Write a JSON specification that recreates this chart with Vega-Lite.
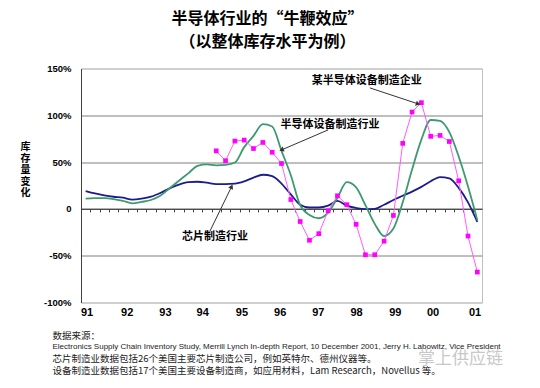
{
  "$schema": "https://vega.github.io/schema/vega-lite/v6.json",
  "width": 401,
  "height": 234,
  "autosize": {"type": "none"},
  "padding": {"left": 81, "top": 68.5, "right": 58, "bottom": 85.5},
  "background": "white",
  "config": {"view": {"stroke": "#c0c0c0", "strokeWidth": 1}, "font": "Liberation Sans"},
  "title": {
    "text": ["半导体行业的“牛鞭效应”", "（以整体库存水平为例）"],
    "font": "Noto Sans CJK SC",
    "fontSize": 16,
    "fontWeight": "bold",
    "lineHeight": 23,
    "anchor": "middle",
    "dx": -14,
    "offset": 14,
    "color": "#000000"
  },
  "datasets": {
    "series": [
      {"t": 0, "chip": 19, "equip": 11, "firm": null},
      {"t": 1, "chip": 16.5, "equip": 11.5, "firm": null},
      {"t": 2, "chip": 14.5, "equip": 11.5, "firm": null},
      {"t": 3, "chip": 13, "equip": 10.5, "firm": null},
      {"t": 4, "chip": 12, "equip": 8.5, "firm": null},
      {"t": 5, "chip": 10, "equip": 6, "firm": null},
      {"t": 6, "chip": 11, "equip": 7.5, "firm": null},
      {"t": 7, "chip": 13, "equip": 9.5, "firm": null},
      {"t": 8, "chip": 17, "equip": 14, "firm": null},
      {"t": 9, "chip": 22, "equip": 22, "firm": null},
      {"t": 10, "chip": 26, "equip": 30, "firm": null},
      {"t": 11, "chip": 28.5, "equip": 38, "firm": null},
      {"t": 12, "chip": 29, "equip": 46, "firm": null},
      {"t": 13, "chip": 28, "equip": 47.5, "firm": null},
      {"t": 14, "chip": 26.5, "equip": 46.5, "firm": 62},
      {"t": 15, "chip": 26.5, "equip": 47, "firm": 51.5},
      {"t": 16, "chip": 27, "equip": 49.5, "firm": 72.5},
      {"t": 17, "chip": 29.5, "equip": 66, "firm": 73.5},
      {"t": 18, "chip": 33.5, "equip": 78, "firm": 64.5},
      {"t": 19, "chip": 36.5, "equip": 90.5, "firm": 71},
      {"t": 20, "chip": 35, "equip": 88, "firm": 60.5},
      {"t": 21, "chip": 27, "equip": 62, "firm": 48.5},
      {"t": 22, "chip": 15.5, "equip": 36, "firm": 10},
      {"t": 23, "chip": 4.5, "equip": 4, "firm": -13.5},
      {"t": 24, "chip": 1.5, "equip": -6.5, "firm": -33.5},
      {"t": 25, "chip": 1.5, "equip": -10, "firm": -26.5},
      {"t": 26, "chip": 3.5, "equip": -4, "firm": -2},
      {"t": 27, "chip": 8.5, "equip": 12, "firm": 14},
      {"t": 28, "chip": 3.5, "equip": 28.5, "firm": 4.5},
      {"t": 29, "chip": 1, "equip": 23, "firm": -16.5},
      {"t": 30, "chip": -0.3, "equip": 4, "firm": -49},
      {"t": 31, "chip": 0, "equip": -16, "firm": -49},
      {"t": 32, "chip": 4.5, "equip": -29, "firm": -34.5},
      {"t": 33, "chip": 9.5, "equip": -21, "firm": -7},
      {"t": 34, "chip": 14, "equip": 7, "firm": 70},
      {"t": 35, "chip": 18.5, "equip": 42, "firm": 103.5},
      {"t": 36, "chip": 23.5, "equip": 74, "firm": 113.5},
      {"t": 37, "chip": 29.5, "equip": 95, "firm": 77.5},
      {"t": 38, "chip": 34, "equip": 94, "firm": 78.5},
      {"t": 39, "chip": 32.5, "equip": 82, "firm": 72},
      {"t": 40, "chip": 22.5, "equip": 56, "firm": 30},
      {"t": 41, "chip": 7, "equip": 24, "firm": -29},
      {"t": 42, "chip": -14, "equip": -12, "firm": -67.5}
    ],
    "labels": [
      {"label": "某半导体设备制造企业", "t": 30.15, "v": 137},
      {"label": "半导体设备制造行业", "t": 26.2, "v": 89.7},
      {"label": "芯片制造行业", "t": 13.86, "v": -29.6}
    ],
    "arrows": [
      {"id": "a", "t": 30.47, "v": 129.3, "t2": 35.65, "v2": 112.2},
      {"id": "b", "t": 26.0, "v": 84.4, "t2": 21.0, "v2": 63.0},
      {"id": "c", "t": 13.3, "v": -24.3, "t2": 15.65, "v2": 23.8}
    ]
  },
  "resolve": {"axis": {"x": "independent", "y": "independent"}},
  "layer": [
    {
      "data": {"name": "series"},
      "mark": {"type": "line", "color": "#1c1c8a", "strokeWidth": 1.8, "interpolate": "monotone"},
      "encoding": {
        "x": {
          "field": "t", "type": "quantitative",
          "scale": {"domain": [-0.5, 42.5], "nice": false, "zero": false},
          "axis": {
            "orient": "bottom",
            "values": [0.1, 4.4, 8.5, 12.5, 16.7, 20.8, 24.9, 29.0, 33.15, 37.2, 41.7],
            "labelExpr": "['91','92','93','94','95','96','97','98','99','00','01'][round((datum.value-0.1)/4.16)]",
            "labelFont": "Liberation Sans",
            "labelFontSize": 11,
            "labelFontWeight": "bold",
            "labelColor": "#000000",
            "labelPadding": 4,
            "ticks": false,
            "domain": false,
            "grid": false,
            "title": ["芯片制造业数据包括26个美国主要芯片制造公司，例如英特尔、德州仪器等。", "设备制造业数据包括17个美国主要设备制造商，如应用材料，Lam Research，Novellus 等。"],
            "titleFont": "Noto Sans CJK SC",
            "titleFontSize": 9.5,
            "titleFontWeight": "normal",
            "titleColor": "#222222",
            "titleLineHeight": 11.7,
            "titleAlign": "left",
            "titleBaseline": "top",
            "titleAngle": 0,
            "titleX": -29,
            "titleY": 51
          }
        },
        "y": {
          "field": "chip", "type": "quantitative",
          "scale": {"domain": [-100, 150], "nice": false, "zero": false},
          "axis": {
            "orient": "left",
            "values": [-100, -50, 0, 50, 100, 150],
            "labelExpr": "datum.value === 0 ? '0' : datum.value + '%'",
            "labelFont": "Liberation Sans",
            "labelFontSize": 9.5,
            "labelFontWeight": "bold",
            "labelColor": "#000000",
            "labelPadding": 10,
            "ticks": false,
            "domain": true,
            "domainColor": "#404040",
            "domainWidth": 1,
            "grid": true,
            "gridColor": {"condition": {"test": "datum.value === 150 || datum.value === -100", "value": "#c0c0c0"}, "value": "#7f7f7f"},
            "gridWidth": 1,
            "title": ["库", "存", "量", "变", "化"],
            "titleFont": "Noto Sans CJK SC",
            "titleFontSize": 10,
            "titleFontWeight": "bold",
            "titleColor": "#000000",
            "titleLineHeight": 11.5,
            "titleAngle": 0,
            "titleAlign": "center",
            "titleBaseline": "top",
            "titleX": -56,
            "titleY": 73
          }
        }
      }
    },
    {
      "data": {"name": "series"},
      "mark": {"type": "line", "color": "#3c9a6e", "strokeWidth": 1.8, "interpolate": "monotone"},
      "encoding": {
        "x": {
          "field": "t", "type": "quantitative",
          "scale": {"domain": [-0.5, 42.5], "nice": false, "zero": false},
          "axis": {
            "orient": "top",
            "labels": false,
            "ticks": false,
            "domain": false,
            "grid": false,
            "title": "数据来源：",
            "titleFont": "Noto Sans CJK SC",
            "titleFontSize": 9.5,
            "titleFontWeight": "normal",
            "titleColor": "#222222",
            "titleAlign": "left",
            "titleBaseline": "middle",
            "titleAngle": 0,
            "titleX": -29,
            "titleY": 267
          }
        },
        "y": {"field": "equip", "type": "quantitative", "scale": {"domain": [-100, 150], "nice": false, "zero": false}, "axis": null}
      }
    },
    {
      "data": {"name": "series"},
      "transform": [{"filter": "datum.firm != null"}],
      "mark": {"type": "line", "color": "#ff5cff", "strokeWidth": 1},
      "encoding": {
        "x": {
          "field": "t", "type": "quantitative",
          "scale": {"domain": [-0.5, 42.5], "nice": false, "zero": false},
          "axis": {
            "orient": "top",
            "offset": -140.4,
            "values": [0.5, 1.5, 2.5, 3.5, 4.5, 5.5, 6.5, 7.5, 8.5, 9.5, 10.5, 11.5, 12.5, 13.5, 14.5, 15.5, 16.5, 17.5, 18.5, 19.5, 20.5, 21.5, 22.5, 23.5, 24.5, 25.5, 26.5, 27.5, 28.5, 29.5, 30.5, 31.5, 32.5, 33.5, 34.5, 35.5, 36.5, 37.5, 38.5, 39.5, 40.5, 41.5],
            "labels": false,
            "ticks": true,
            "tickSize": -3,
            "tickColor": "#404040",
            "tickWidth": 1,
            "domain": true,
            "domainColor": "#404040",
            "domainWidth": 1,
            "grid": false,
            "title": "Electronics Supply Chain Inventory Study, Merrill Lynch In-depth Report, 10 December 2001, Jerry H. Labowitz, Vice President",
            "titleFont": "Liberation Sans",
            "titleFontSize": 8,
            "titleFontWeight": "normal",
            "titleColor": "#222222",
            "titleAlign": "left",
            "titleBaseline": "middle",
            "titleAngle": 0,
            "titleX": -29,
            "titleY": 138
          }
        },
        "y": {
          "field": "firm", "type": "quantitative",
          "scale": {"domain": [-100, 150], "nice": false, "zero": false},
          "axis": {
            "orient": "right",
            "labels": false,
            "ticks": false,
            "domain": false,
            "grid": false,
            "title": "掌上供应链",
            "titleFont": "Noto Sans CJK SC",
            "titleFontSize": 17,
            "titleFontWeight": "normal",
            "titleColor": "#c8c8c8",
            "titleAngle": 0,
            "titleAlign": "center",
            "titleBaseline": "middle",
            "titleX": -22,
            "titleY": 290
          }
        }
      }
    },
    {
      "data": {"name": "series"},
      "transform": [{"filter": "datum.firm != null"}],
      "mark": {"type": "point", "shape": "square", "filled": true, "color": "#ff00ff", "size": 22, "opacity": 1},
      "encoding": {
        "x": {"field": "t", "type": "quantitative", "scale": {"domain": [-0.5, 42.5], "nice": false, "zero": false}, "axis": null},
        "y": {"field": "firm", "type": "quantitative", "scale": {"domain": [-100, 150], "nice": false, "zero": false}, "axis": null}
      }
    },
    {
      "data": {"name": "arrows"},
      "mark": {"type": "rule", "color": "#333333", "strokeWidth": 1},
      "encoding": {
        "x": {"field": "t", "type": "quantitative", "scale": {"domain": [-0.5, 42.5], "nice": false, "zero": false}, "axis": null},
        "y": {"field": "v", "type": "quantitative", "scale": {"domain": [-100, 150], "nice": false, "zero": false}, "axis": null},
        "x2": {"field": "t2"},
        "y2": {"field": "v2"}
      }
    },
    {
      "data": {"name": "arrows"},
      "transform": [{"filter": "datum.id === 'a'"}],
      "mark": {"type": "point", "shape": "triangle-up", "filled": true, "color": "#333333", "size": 28, "angle": 108, "opacity": 1},
      "encoding": {
        "x": {"field": "t2", "type": "quantitative", "scale": {"domain": [-0.5, 42.5], "nice": false, "zero": false}, "axis": null},
        "y": {"field": "v2", "type": "quantitative", "scale": {"domain": [-100, 150], "nice": false, "zero": false}, "axis": null}
      }
    },
    {
      "data": {"name": "arrows"},
      "transform": [{"filter": "datum.id === 'b'"}],
      "mark": {"type": "point", "shape": "triangle-up", "filled": true, "color": "#333333", "size": 28, "angle": 247, "opacity": 1},
      "encoding": {
        "x": {"field": "t2", "type": "quantitative", "scale": {"domain": [-0.5, 42.5], "nice": false, "zero": false}, "axis": null},
        "y": {"field": "v2", "type": "quantitative", "scale": {"domain": [-100, 150], "nice": false, "zero": false}, "axis": null}
      }
    },
    {
      "data": {"name": "arrows"},
      "transform": [{"filter": "datum.id === 'c'"}],
      "mark": {"type": "point", "shape": "triangle-up", "filled": true, "color": "#333333", "size": 28, "angle": 26, "opacity": 1},
      "encoding": {
        "x": {"field": "t2", "type": "quantitative", "scale": {"domain": [-0.5, 42.5], "nice": false, "zero": false}, "axis": null},
        "y": {"field": "v2", "type": "quantitative", "scale": {"domain": [-100, 150], "nice": false, "zero": false}, "axis": null}
      }
    },
    {
      "data": {"name": "labels"},
      "mark": {"type": "text", "font": "Noto Sans CJK SC", "fontSize": 11, "fontWeight": "bold", "color": "#000000", "align": "center", "baseline": "middle"},
      "encoding": {
        "x": {"field": "t", "type": "quantitative", "scale": {"domain": [-0.5, 42.5], "nice": false, "zero": false}, "axis": null},
        "y": {"field": "v", "type": "quantitative", "scale": {"domain": [-100, 150], "nice": false, "zero": false}, "axis": null},
        "text": {"field": "label"}
      }
    }
  ]
}
